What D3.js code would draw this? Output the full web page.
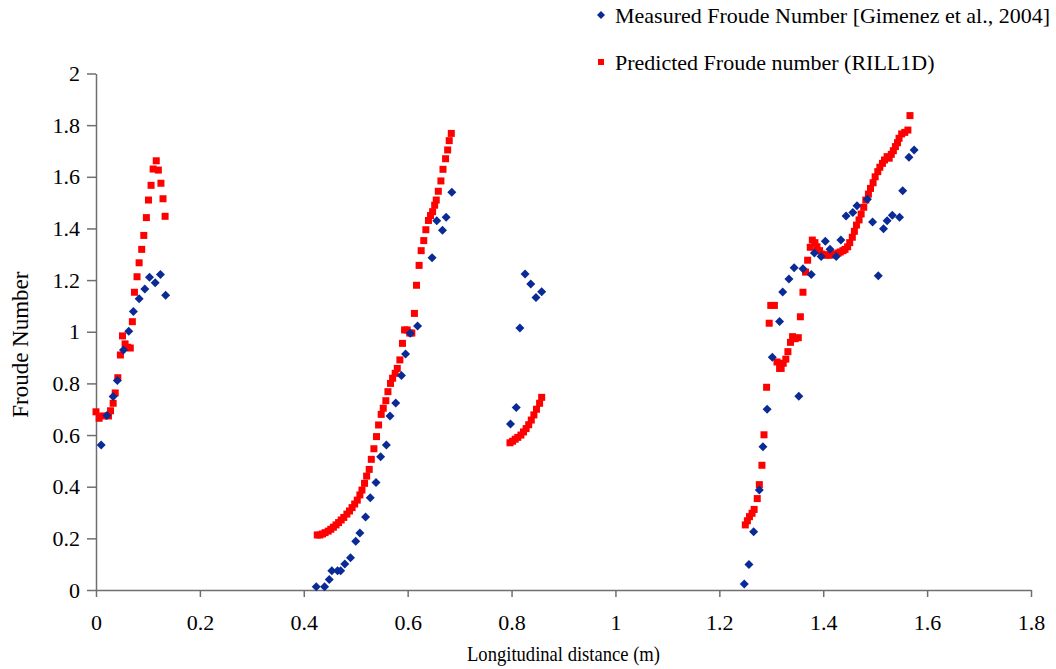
<!DOCTYPE html>
<html>
<head>
<meta charset="utf-8">
<script src="https://cdn.jsdelivr.net/npm/d3@7"></script>
<style>
  body { margin: 0; background: #fff; }
  svg { display: block; font-family: "Liberation Serif", "Times New Roman", serif; }
</style>
</head>
<body>
<svg id="chart" width="1056" height="669"></svg>
<script>
// Measured Froude number [Gimenez et al., 2004]
const measuredX = [
  0.010, 0.021, 0.033, 0.041, 0.053, 0.063, 0.072, 0.083, 0.094, 0.103, 0.114, 0.124, 0.134,
  0.424, 0.440, 0.449, 0.454, 0.465, 0.471, 0.479, 0.490, 0.500, 0.508, 0.519, 0.528, 0.539,
  0.548, 0.559, 0.566, 0.577, 0.588, 0.596, 0.605, 0.619, 0.647, 0.656, 0.667, 0.674, 0.685,
  0.798, 0.809, 0.816, 0.826, 0.837, 0.847, 0.858,
  1.248, 1.257, 1.266, 1.277, 1.284, 1.292, 1.302, 1.316, 1.322, 1.334, 1.344, 1.353, 1.361,
  1.377, 1.383, 1.396, 1.404, 1.413, 1.425, 1.434, 1.444, 1.457, 1.465, 1.485, 1.495, 1.506,
  1.516, 1.523, 1.533, 1.547, 1.553, 1.565, 1.575
]
const measuredF = [
  0.561, 0.676, 0.749, 0.811, 0.929, 1.002, 1.078, 1.128, 1.166, 1.211, 1.190, 1.222, 1.141,
  0.013, 0.013, 0.041, 0.075, 0.075, 0.075, 0.101, 0.125, 0.189, 0.221, 0.283, 0.357, 0.416,
  0.516, 0.561, 0.674, 0.724, 0.831, 0.914, 0.994, 1.022, 1.287, 1.430, 1.393, 1.443, 1.540,
  0.643, 0.707, 1.015, 1.224, 1.185, 1.133, 1.155,
  0.023, 0.099, 0.226, 0.387, 0.555, 0.700, 0.901, 1.040, 1.154, 1.204, 1.248, 0.750, 1.244,
  1.222, 1.305, 1.291, 1.350, 1.319, 1.291, 1.355, 1.448, 1.462, 1.488, 1.513, 1.425, 1.217,
  1.399, 1.430, 1.451, 1.443, 1.546, 1.676, 1.704
]

// Predicted Froude number (RILL1D)
const predictedX = [
  0.000, 0.006, 0.013, 0.024, 0.028, 0.033, 0.037, 0.042, 0.047, 0.051, 0.056, 0.061, 0.066,
  0.070, 0.074, 0.079, 0.083, 0.088, 0.092, 0.097, 0.101, 0.106, 0.110, 0.116, 0.120, 0.125,
  0.129, 0.133,
  0.426, 0.431, 0.436, 0.441, 0.447, 0.452, 0.457, 0.462, 0.467, 0.472, 0.477, 0.483, 0.488,
  0.493, 0.498, 0.503, 0.508, 0.512, 0.517, 0.521, 0.526, 0.530, 0.535, 0.540, 0.544, 0.549,
  0.553, 0.558, 0.562, 0.567, 0.571, 0.576, 0.580, 0.585, 0.590, 0.594, 0.599, 0.604, 0.608,
  0.613, 0.617, 0.622, 0.626, 0.631, 0.635, 0.640, 0.644, 0.648, 0.652, 0.655, 0.659, 0.664,
  0.668, 0.673, 0.677, 0.680, 0.684,
  0.797, 0.802, 0.807, 0.812, 0.818, 0.823, 0.828, 0.833, 0.838, 0.843, 0.848, 0.854, 0.858,
  1.250, 1.254, 1.258, 1.263, 1.267, 1.273, 1.277, 1.282, 1.286, 1.291, 1.296, 1.299, 1.306,
  1.311, 1.316, 1.319, 1.323, 1.328, 1.332, 1.337, 1.341, 1.346, 1.352, 1.356, 1.361, 1.366,
  1.370, 1.375, 1.379, 1.384, 1.388, 1.393, 1.397, 1.402, 1.406, 1.411, 1.415, 1.420, 1.424,
  1.429, 1.433, 1.438, 1.442, 1.447, 1.451, 1.456, 1.460, 1.464, 1.469, 1.473, 1.478, 1.482,
  1.487, 1.491, 1.496, 1.500, 1.505, 1.509, 1.514, 1.518, 1.523, 1.527, 1.531, 1.535, 1.539,
  1.543, 1.546, 1.551, 1.557, 1.563, 1.567
]
const predictedF = [
  0.690, 0.665, 0.674, 0.674, 0.694, 0.723, 0.763, 0.822, 0.910, 0.984, 0.953, 0.940, 0.937,
  1.039, 1.153, 1.213, 1.267, 1.319, 1.373, 1.442, 1.510, 1.567, 1.630, 1.662, 1.626, 1.575,
  1.515, 1.447,
  0.213, 0.213, 0.217, 0.222, 0.228, 0.235, 0.243, 0.252, 0.261, 0.271, 0.281, 0.294, 0.306,
  0.319, 0.333, 0.348, 0.368, 0.387, 0.413, 0.441, 0.467, 0.506, 0.547, 0.594, 0.639, 0.680,
  0.704, 0.733, 0.768, 0.800, 0.820, 0.839, 0.858, 0.891, 0.955, 1.007, 1.007, 0.995, 0.995,
  1.071, 1.180, 1.257, 1.314, 1.353, 1.395, 1.431, 1.450, 1.465, 1.490, 1.510, 1.544, 1.584,
  1.629, 1.670, 1.704, 1.740, 1.768,
  0.570, 0.576, 0.584, 0.591, 0.600, 0.612, 0.625, 0.640, 0.658, 0.678, 0.700, 0.723, 0.746,
  0.252, 0.268, 0.284, 0.297, 0.312, 0.354, 0.408, 0.483, 0.601, 0.785, 1.033, 1.102, 1.102,
  0.883, 0.858, 0.858, 0.878, 0.894, 0.923, 0.959, 0.981, 0.973, 0.977, 1.058, 1.153, 1.231,
  1.277, 1.327, 1.355, 1.345, 1.329, 1.314, 1.301, 1.297, 1.297, 1.297, 1.297, 1.300, 1.302,
  1.305, 1.309, 1.314, 1.319, 1.329, 1.345, 1.366, 1.389, 1.413, 1.433, 1.456, 1.482, 1.510,
  1.533, 1.555, 1.577, 1.600, 1.620, 1.637, 1.652, 1.665, 1.678, 1.672, 1.687, 1.701, 1.717,
  1.732, 1.749, 1.766, 1.772, 1.781, 1.837
]

const xTicks = [0, 0.2, 0.4, 0.6, 0.8, 1, 1.2, 1.4, 1.6, 1.8]
const yTicks = [0, 0.2, 0.4, 0.6, 0.8, 1, 1.2, 1.4, 1.6, 1.8, 2]

const seriesNames = ["Measured Froude Number [Gimenez et al., 2004]", "Predicted Froude number (RILL1D)"]
const blue = "#0a2a96"
const red = "#ff0000"
const axisColor = "#6f6f6f"

const svg = d3.select("#chart")
const margin = { top: 73.5, right: 25, bottom: 79, left: 96 }
const width = 1056 - margin.left - margin.right
const height = 669 - margin.top - margin.bottom

const g = svg.append("g")
  .attr("transform", `translate(${margin.left},${margin.top})`)

const x = d3.scaleLinear().domain([0, 1.8]).range([0, width])
const y = d3.scaleLinear().domain([0, 2]).range([height, 0])

// Axes
const xAxis = d3.axisBottom(x)
  .tickValues(xTicks)
  .tickSize(7)
  .tickSizeOuter(0)
  .tickFormat(d => d3.format("")(d))

const yAxis = d3.axisLeft(y)
  .tickValues(yTicks)
  .tickSize(9)
  .tickSizeOuter(0)
  .tickFormat(d => d3.format("")(d))

const gx = g.append("g")
  .attr("transform", `translate(0,${height})`)
  .call(xAxis)
gx.select(".domain").attr("stroke", axisColor).attr("stroke-width", 1.5)
gx.selectAll(".tick line").attr("stroke", axisColor).attr("stroke-width", 1.5)
gx.selectAll(".tick text")
  .attr("font-family", "Liberation Serif, Times New Roman, serif")
  .attr("font-size", 22)
  .attr("fill", "#000")
  .attr("y", 40)
  .attr("dy", 0)

const gy = g.append("g").call(yAxis)
gy.select(".domain").attr("stroke", axisColor).attr("stroke-width", 1.5)
gy.selectAll(".tick line").attr("stroke", axisColor).attr("stroke-width", 1.5)
gy.selectAll(".tick text")
  .attr("font-family", "Liberation Serif, Times New Roman, serif")
  .attr("font-size", 22)
  .attr("fill", "#000")
  .attr("x", -16)

// Axis titles
svg.append("text")
  .attr("x", margin.left + x(0.9))
  .attr("y", 661)
  .attr("text-anchor", "middle")
  .attr("font-size", 22)
  .attr("textLength", 193)
  .attr("lengthAdjust", "spacingAndGlyphs")
  .text("Longitudinal distance (m)")

svg.append("text")
  .attr("transform", `translate(28,${margin.top + y(0.95)}) rotate(-90)`)
  .attr("text-anchor", "middle")
  .attr("font-size", 23)
  .text("Froude Number")

// Markers
const measured = measuredX.map((d, i) => ({ x: d, f: measuredF[i] }))
const predicted = predictedX.map((d, i) => ({ x: d, f: predictedF[i] }))

const diamond = (cx, cy, r) => `M${cx},${cy - r}L${cx + r},${cy}L${cx},${cy + r}L${cx - r},${cy}Z`

g.selectAll(".pred")
  .data(predicted)
  .join("rect")
  .attr("class", "pred")
  .attr("x", d => x(d.x) - 3.5)
  .attr("y", d => y(d.f) - 3.5)
  .attr("width", 7)
  .attr("height", 7)
  .attr("fill", red)

g.selectAll(".meas")
  .data(measured)
  .join("path")
  .attr("class", "meas")
  .attr("d", d => diamond(x(d.x), y(d.f), 4.5))
  .attr("fill", blue)

// Legend
const legend = svg.append("g").attr("transform", "translate(601,0)")
legend.append("path")
  .attr("d", diamond(0, 15, 4))
  .attr("fill", blue)
legend.append("rect")
  .attr("x", -3).attr("y", 59).attr("width", 6).attr("height", 6)
  .attr("fill", red)
legend.selectAll(".ltext")
  .data(seriesNames)
  .join("text")
  .attr("class", "ltext")
  .attr("x", 14)
  .attr("y", (d, i) => 23 + i * 47)
  .attr("font-size", 22)
  .text(d => d)
</script>
</body>
</html>
